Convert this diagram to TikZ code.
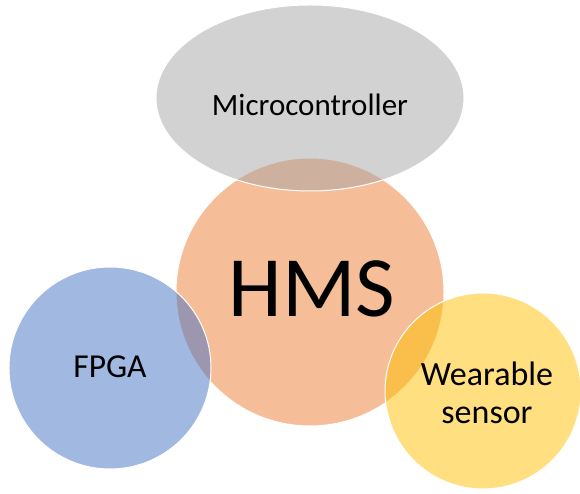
\documentclass[tikz,border=0pt]{standalone}
\usepackage{fontspec}
\setmainfont{Carlito}
\usepackage{tikz}

\definecolor{hmsorange}{HTML}{ED7D31}
\definecolor{mcgray}{HTML}{A5A5A5}
\definecolor{fpgablue}{HTML}{4472C4}
\definecolor{sensoryellow}{HTML}{FFC000}

\tikzset{
  vennset/.style={fill opacity=0.5, draw=white, draw opacity=1, line width=1pt},
  vennlabel/.style={text=black, align=center, inner sep=0pt}
}

\begin{document}
\begin{tikzpicture}[x=1pt,y=1pt]
\useasboundingbox (0,0) rectangle (580,494);

% HMS in the middle
\filldraw[vennset,fill=hmsorange] (310,202) circle (134pt);
% Microcontroller on top
\filldraw[vennset,fill=mcgray] (310,396) ellipse (154pt and 93pt);
% FPGA on the left
\filldraw[vennset,fill=fpgablue] (110,126) circle (101pt);
% Wearable sensor on the right
\filldraw[vennset,fill=sensoryellow] (483,103) circle (98pt);

% Labels
\node[vennlabel,font=\fontsize{86}{86}\selectfont] (hms) at (312,205) {HMS};
\node[vennlabel,font=\fontsize{31}{31}\selectfont] (mcu) at (310,389) {Microcontroller};
\node[vennlabel,font=\fontsize{33.5}{33.5}\selectfont] (fpga) at (110,127) {FPGA};
\node[vennlabel,font=\fontsize{34}{38}\selectfont] (sensor) at (487,101) {Wearable\\sensor};
\end{tikzpicture}
\end{document}
